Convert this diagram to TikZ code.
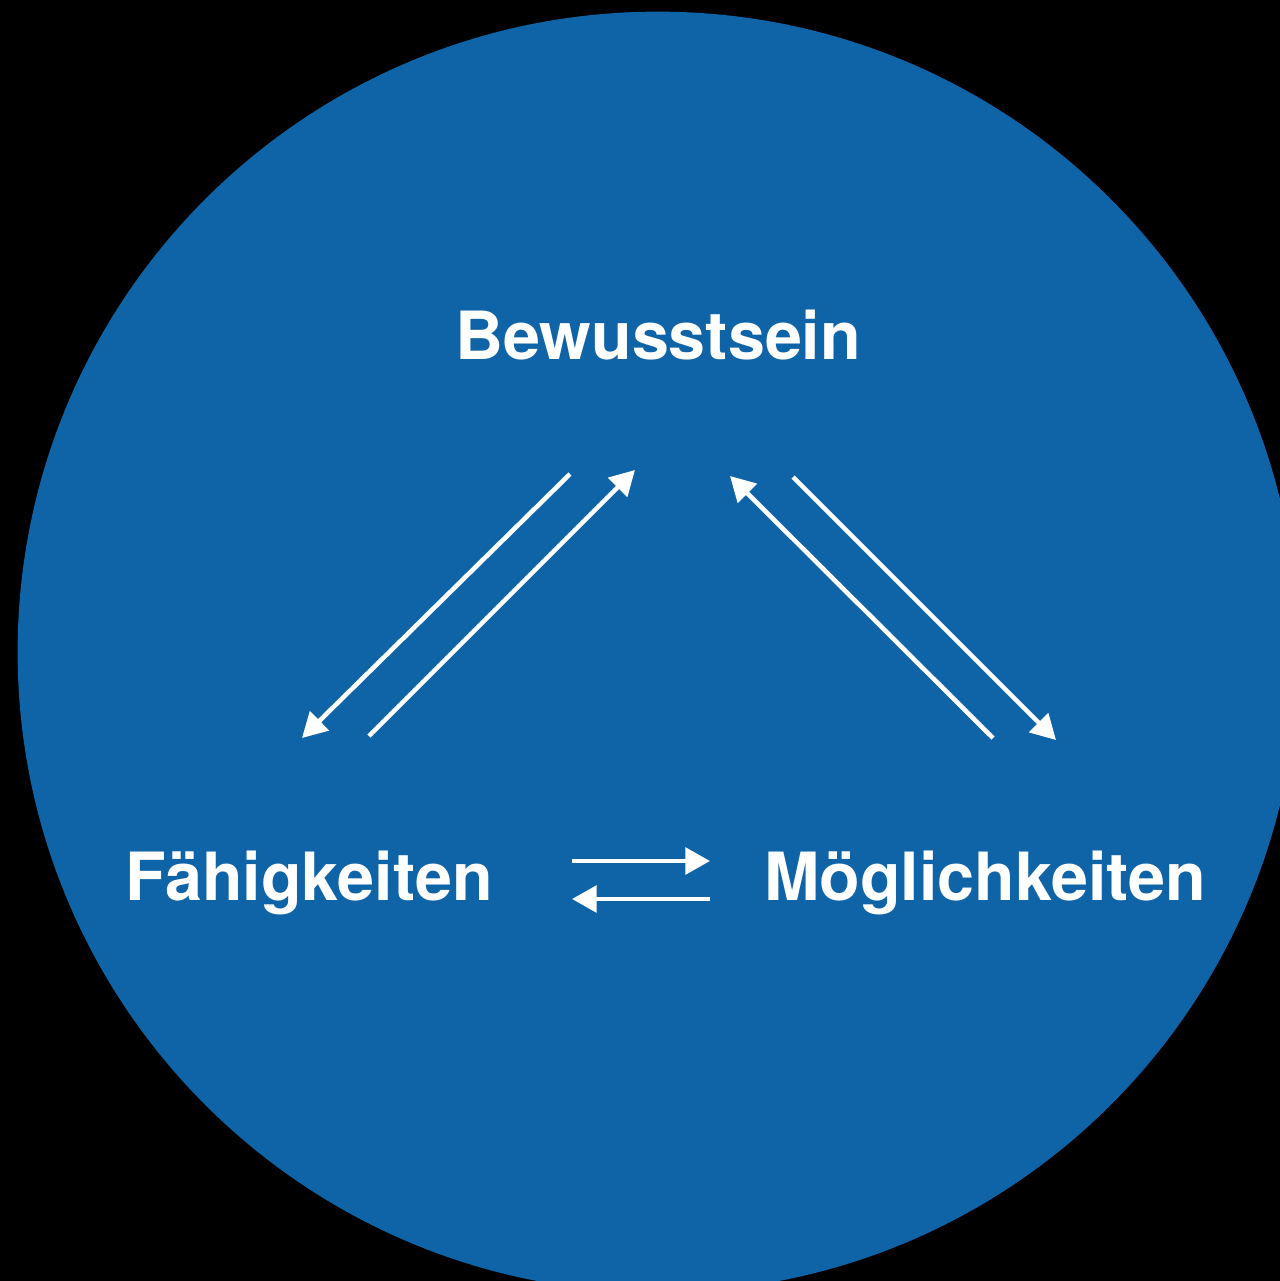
\documentclass[tikz,border=0pt]{standalone}
\usepackage{fontspec}
\setmainfont{TeX Gyre Heros}
\usetikzlibrary{positioning, arrows.meta}

\definecolor{discblue}{HTML}{0F64A8}

\tikzset{
  term/.style={text=white, font=\fontsize{18.9}{22}\selectfont\bfseries, anchor=base, inner sep=0pt},
  flow/.style={draw=white, line width=1.3pt, -{Triangle[length=7pt,width=7.5pt]}}
}

\begin{document}
\begin{tikzpicture}[x=0.01cm, y=-0.01cm]
    % Background and disc
    \fill[black] (0,0) rectangle (1280,1281);
    \useasboundingbox (0,0) rectangle (1280,1281);
    \begin{scope}
      \clip (0,0) rectangle (1280,1281);
      \fill[discblue] (658,652) circle[radius=6.4cm];
    \end{scope}

    % Terms
    \node[term] (bew) at (658,359) {Bewusstsein};
    \node[term] (fae) at (309,900) {Fähigkeiten};
    \node[term] (moe) at (985,900) {Möglichkeiten};

    % Arrow ends
    \coordinate (bf1) at (570,474);  \coordinate (fb1) at (302,738);
    \coordinate (fb2) at (369,736);  \coordinate (bf2) at (635,470);
    \coordinate (mb1) at (993,738);  \coordinate (bm1) at (730,476);
    \coordinate (bm2) at (793,477);  \coordinate (mb2) at (1056,740);
    \coordinate (fm1) at (572,861);  \coordinate (mf1) at (710,861);
    \coordinate (mf2) at (710,899);  \coordinate (fm2) at (572,899);

    % Draw arrows
    \foreach \s/\t in {bf1/fb1, fb2/bf2, mb1/bm1, bm2/mb2, fm1/mf1, mf2/fm2} {
      \draw[flow] (\s) -- (\t);
    }
\end{tikzpicture}
\end{document}
